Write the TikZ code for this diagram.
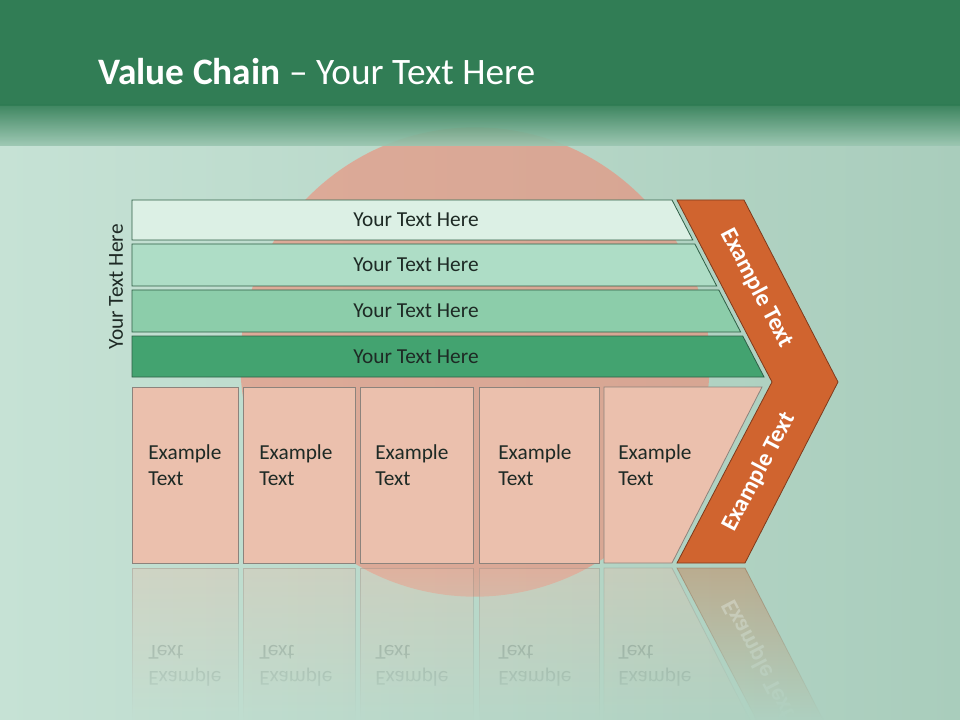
\documentclass[tikz,border=0pt]{standalone}
\usepackage{fontspec}
\setmainfont{Carlito}
\usetikzlibrary{fadings}

\definecolor{bandgreen}{HTML}{317D55}
\definecolor{fadegreen}{HTML}{9CC7B2}
\definecolor{mintL}{HTML}{C6E2D5}
\definecolor{mintR}{HTML}{A9CDBC}
\definecolor{barA}{HTML}{DCF0E5}
\definecolor{barB}{HTML}{AEDDC6}
\definecolor{barC}{HTML}{8CCDAA}
\definecolor{barD}{HTML}{43A370}
\definecolor{barline}{HTML}{2F5F46}
\definecolor{boxfill}{HTML}{EBC0AD}
\definecolor{boxline}{HTML}{8C837C}
\definecolor{chevfill}{HTML}{D0642F}
\definecolor{chevline}{HTML}{7F3A1C}
\definecolor{sun}{HTML}{F7826D}
\definecolor{inktext}{HTML}{1E2A25}
\tikzfading[name=reflfade, top color=transparent!100, bottom color=transparent!0]

\begin{document}
\begin{tikzpicture}[x=0.75pt,y=-0.75pt,
  bartext/.style={font=\fontsize{16}{19.5}\selectfont, text=inktext},
  boxtext/.style={font=\fontsize{16}{19.5}\selectfont, text=inktext, align=left, anchor=west, inner sep=0pt},
  chevtext/.style={font=\fontsize{18}{22}\selectfont\bfseries, text=white},
  stagebox/.style={fill=boxfill, draw=boxline, line width=0.6pt},
  chevron/.style={fill=chevfill, draw=chevline, line width=0.6pt}]
  \useasboundingbox (0,0) rectangle (960,720);
  % background
  \shade[left color=mintL, right color=mintR] (0,0) rectangle (960,720);
  \fill[sun, opacity=0.55] (475,362) circle (176pt);
  \fill[bandgreen] (0,0) rectangle (960,106);
  \shade[top color=bandgreen, bottom color=fadegreen, opacity=0.9] (0,105) rectangle (960,146);
  \node[font=\fontsize{28}{34}\selectfont, text=white, anchor=base west, inner sep=0pt] (title) at (98,85) {\textbf{Value Chain} -- Your Text Here};

  % bars
  \foreach \n/\yt/\yb/\col in {1/200/240/barA,2/244/286/barB,3/290/332/barC,4/336/377/barD}{
    \draw[fill=\col, draw=barline, line width=0.6pt] (132,\yt) -- ({672+0.52*(\yt-200)},\yt) -- ({672+0.52*(\yb-200)},\yb) -- (132,\yb) -- cycle;
    \node[bartext] (bar\n) at (416,{(\yt+\yb)/2}) {Your Text Here};
  }
  \node[bartext, rotate=90] (side) at (116,287) {Your Text Here};

  % boxes
  \foreach \n/\xl/\xr/\tx in {1/132/238/148,2/243/355/259,3/360/473/375,4/479/599/498}{
    \draw[stagebox] (\xl,387) rectangle (\xr,563);
    \node[boxtext] (box\n) at (\tx,465) {Example\\Text};
  }
  \draw[stagebox] (604,387) -- (762,387) -- (672,563) -- (604,563) -- cycle;
  \node[boxtext] (box5) at (618,465) {Example\\Text};

  % chevron
  \draw[chevron] (677,200) -- (744,200) -- (838,382) -- (745,563) -- (677,563) -- (772,382) -- cycle;
  \node[chevtext, rotate=-62.4] (chevtop) at (757,288) {Example Text};
  \node[chevtext, rotate=62.3] (chevbot) at (759,472) {Example Text};

  % reflection
  \begin{scope}[opacity=0.35]
    \foreach \n/\xl/\xr/\tx in {1/132/238/148,2/243/355/259,3/360/473/375,4/479/599/498}{
      \draw[stagebox] (\xl,568) rectangle (\xr,744);
      \node[boxtext, yscale=-1] (refl\n) at (\tx,666) {Example\\Text};
    }
    \draw[stagebox] (604,568) -- (672,568) -- (762,744) -- (604,744) -- cycle;
    \node[boxtext, yscale=-1] (refl5) at (618,666) {Example\\Text};
    \draw[chevron] (677,568) -- (745,568) -- (838,749) -- (772,749) -- cycle;
    \node[chevtext, rotate=-62.3, yscale=-1] (reflchev) at (759,659) {Example Text};
  \end{scope}
  \shade[left color=mintL, right color=mintR, path fading=reflfade] (0,566) rectangle (960,720);
\end{tikzpicture}
\end{document}
